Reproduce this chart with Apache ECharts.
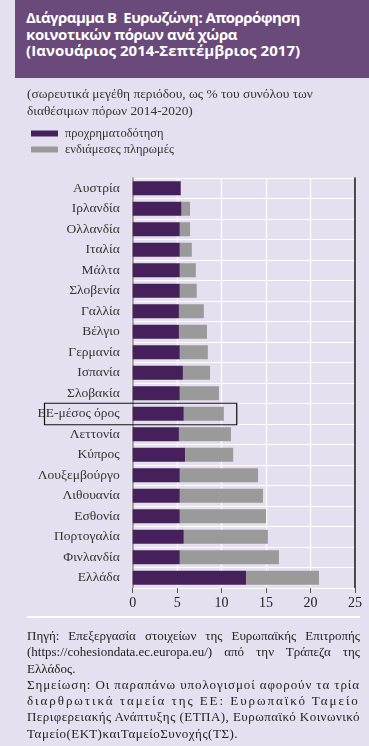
<!DOCTYPE html>
<html><head><meta charset="utf-8">
<script src="https://cdn.jsdelivr.net/npm/echarts@6/dist/echarts.min.js"></script>
<style>
html,body{margin:0;padding:0;background:#e5e0ef;}
#wrap{position:relative;width:369px;height:746px;overflow:hidden;background:#e5e0ef;}
#chart{position:absolute;left:0;top:0;width:369px;height:746px;}
#title{position:absolute;left:15px;top:0;width:354px;height:78px;background:#694a7b;color:#fff;
 font-family:"Open Sans",sans-serif;font-weight:bold;font-size:15px;line-height:16.5px;box-sizing:border-box;padding:9px 0 0 11px;z-index:2;white-space:nowrap;}
#sub{position:absolute;left:27px;top:85px;width:340px;font-family:"Liberation Serif",serif;font-size:12.5px;line-height:17px;color:#333;z-index:2;white-space:nowrap;}
#foot{position:absolute;left:27px;top:628px;width:333px;font-family:"Liberation Serif",serif;font-size:13px;line-height:16.3px;color:#222;z-index:2;}
#foot div{white-space:nowrap;}
.fit{display:inline-block;}
#sep{position:absolute;left:27px;top:616px;width:333px;height:2px;background:#fff;z-index:2;}
</style></head>
<body><div id="wrap">
<div id="chart"></div>
<div id="title"><div><span class="fit" data-w="274" data-m="ls">Διάγραμμα Β&nbsp; Ευρωζώνη: Απορρόφηση</span></div><div><span class="fit" data-w="211" data-m="ls">κοινοτικών πόρων ανά χώρα</span></div><div><span class="fit" data-w="274" data-m="ls">(Ιανουάριος 2014-Σεπτέμβριος 2017)</span></div></div>
<div id="sub"><span id="sub1">(σωρευτικά μεγέθη περιόδου, ως % του συνόλου των</span><br>διαθέσιμων πόρων 2014-2020)</div>
<div id="sep"></div>
<div id="foot">
<div><span class="fit" data-w="333" data-m="ws">Πηγή: Επεξεργασία στοιχείων της Ευρωπαϊκής Επιτροπής</span></div>
<div><span class="fit" data-w="333" data-m="ws">(https://cohesiondata.ec.europa.eu/) από την Τράπεζα της</span></div>
<div>Ελλάδος.</div>
<div><span class="fit" data-w="333" data-m="ls">Σημείωση: Οι παραπάνω υπολογισμοί αφορούν τα τρία</span></div>
<div><span class="fit" data-w="333" data-m="ls">διαρθρωτικά ταμεία της ΕΕ: Ευρωπαϊκό Ταμείο</span></div>
<div><span class="fit" data-w="333" data-m="ls">Περιφερειακής Ανάπτυξης (ΕΤΠΑ), Ευρωπαϊκό Κοινωνικό</span></div>
<div><span class="fit" data-w="211" data-m="ls">Ταμείο(ΕΚΤ)καιΤαμείοΣυνοχής(ΤΣ).</span></div>
</div>
</div>
<script>
// text fitting (layout only)
(function(){
  const s1 = document.getElementById('sub1');
  const w1 = s1.getBoundingClientRect().width;
  const sub = document.getElementById('sub');
  sub.style.fontSize = (12.5 * 286 / w1).toFixed(2) + 'px';
  document.querySelectorAll('.fit').forEach(el=>{
    const target = +el.dataset.w;
    const w = el.getBoundingClientRect().width;
    const txt = el.textContent;
    if (el.dataset.m === 'ws') {
      const n = (txt.match(/ /g)||[]).length;
      if (n) el.style.wordSpacing = ((target - w)/n).toFixed(2) + 'px';
    } else {
      const n = txt.length;
      el.style.letterSpacing = ((target - w)/n).toFixed(2) + 'px';
    }
  });
})();

const categories = ["Αυστρία","Ιρλανδία","Ολλανδία","Ιταλία","Μάλτα","Σλοβενία","Γαλλία","Βέλγιο","Γερμανία","Ισπανία","Σλοβακία","ΕΕ-μέσος όρος","Λεττονία","Κύπρος","Λουξεμβούργο","Λιθουανία","Εσθονία","Πορτογαλία","Φινλανδία","Ελλάδα"];
const prefinancing = [5.4,5.5,5.3,5.3,5.3,5.3,5.2,5.2,5.3,5.65,5.3,5.75,5.2,5.9,5.3,5.3,5.3,5.75,5.3,12.75];
const interimPayments = [0.0,0.95,1.15,1.35,1.8,1.9,2.8,3.15,3.15,3.05,4.4,4.5,5.85,5.4,8.8,9.35,9.7,9.45,11.15,8.2];
const xTicks = [0,5,10,15,20,25];
const highlighted = "ΕΕ-μέσος όρος";
const boxRightValue = 11.7;

const serif = '"Liberation Serif", serif';
const chart = echarts.init(document.getElementById('chart'), null, {renderer:'canvas'});
chart.setOption({
  animation:false,
  backgroundColor:'#e5e0ef',
  legend:{
    orient:'vertical', left:26, top:122, itemWidth:27, itemHeight:6, itemGap:3,
    icon:'rect',
    textStyle:{fontFamily:serif,fontSize:12.5,color:'#333',padding:[0,0,0,2]},
    data:['προχρηματοδότηση','ενδιάμεσες πληρωμές']
  },
  grid:{left:132.7,right:14,top:178,bottom:158,containLabel:false},
  xAxis:{
    type:'value', min:xTicks[0], max:xTicks[xTicks.length-1], interval:5,
    axisLine:{show:true,lineStyle:{color:'#ffffff',width:1}},
    axisTick:{show:true,length:5,lineStyle:{color:'#555'}},
    axisLabel:{fontFamily:serif,fontSize:14,color:'#222',margin:8},
    splitLine:{show:true,lineStyle:{color:'#ffffff',width:1.2}}
  },
  yAxis:[{
    type:'category', data:categories, inverse:true,
    axisLine:{show:true,lineStyle:{color:'#888',width:1.5}},
    axisTick:{show:false},
    axisLabel:{fontFamily:serif,fontSize:13.5,color:'#333',margin:13},
    splitLine:{show:true,lineStyle:{color:'#ffffff',width:1.2}}
  },{
    type:'category', data:categories, inverse:true, position:'right',
    axisLine:{show:true,lineStyle:{color:'#111',width:1.5}},
    axisTick:{show:false}, axisLabel:{show:false}, splitLine:{show:false}
  }],
  series:[
    {name:'προχρηματοδότηση',type:'bar',stack:'a',data:prefinancing,barWidth:14,itemStyle:{color:'#45205a'}},
    {name:'ενδιάμεσες πληρωμές',type:'bar',stack:'a',data:interimPayments,barWidth:14,itemStyle:{color:'#9a9a9a'}}
  ]
});
function drawBox(){
  const idx = categories.indexOf(highlighted);
  const y = chart.convertToPixel({yAxisIndex:0}, idx);
  const x2 = chart.convertToPixel({xAxisIndex:0}, boxRightValue);
  chart.setOption({graphic:[{type:'rect',shape:{x:44.5,y:y-10.5,width:x2-44.5,height:21.5},
    style:{fill:'none',stroke:'#111',lineWidth:1.2},z:100}]});
}
drawBox();
</script>
</body></html>
